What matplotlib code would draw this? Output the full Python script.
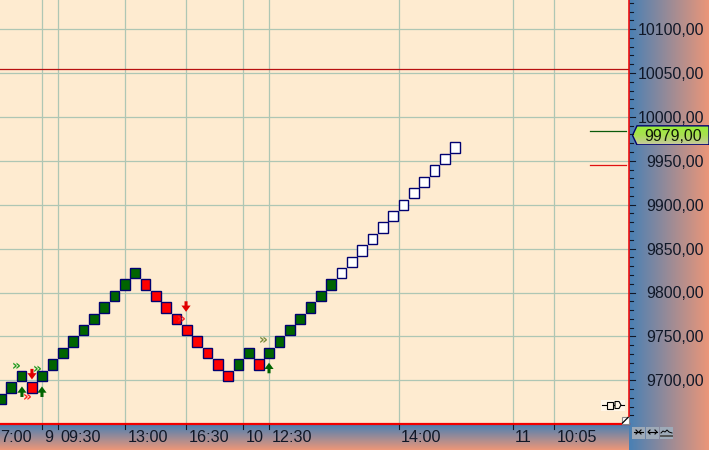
import matplotlib
matplotlib.use("Agg")
import matplotlib.pyplot as plt
import numpy as np
from matplotlib.colors import LinearSegmentedColormap
from matplotlib.patches import Rectangle, Polygon

# renko bricks, centre price and colour code (g=up, r=down, w=open)
brick_prices = [9679, 9692, 9705, 9692, 9705, 9718, 9731, 9744, 9757, 9770, 9783, 9796, 9809, 9822,
                9809, 9796, 9783, 9770, 9757, 9744, 9731, 9718, 9705,
                9718, 9731, 9718, 9731,
                9744, 9757, 9770, 9783, 9796, 9809, 9822, 9835, 9848, 9861, 9874, 9887, 9900,
                9913, 9926, 9939, 9952, 9965]
brick_kinds = list("gggrg" + "g" * 9 + "r" * 9 + "ggrg" + "g" * 6 + "w" * 12)
price_ticks = [9700, 9750, 9800, 9850, 9900, 9950, 10000, 10050, 10100]
price_labels = ["9700,00", "9750,00", "9800,00", "9850,00", "9900,00", "9950,00",
                "10000,00", "10050,00", "10100,00"]
time_grid = [3.97, 5.52, 12.05, 17.93, 23.45, 25.97, 38.6, 49.6, 53.6]
time_labels = ["9", "09:30", "13:00", "16:30", "10", "12:30", "14:00", "11", "10:05"]
label_px = [48.5, 81, 148, 209, 254.5, 292, 421, 523, 577]
last_price = 9979
level_line = 10054
green_level = 9984
red_level = 9945
# arrows as (x, tail, tip)
up_arrows = [(2.03, 9681, 9693), (3.97, 9681, 9693), (25.97, 9708, 9720)]
down_arrows = [(3.0, 9713, 9701), (17.93, 9790, 9778)]
chevrons = [(1.5, 9716, "#1E9A1E"), (3.46, 9713, "#1E9A1E"), (25.4, 9746, "#7A8A3A"),
            (2.49, 9681, "#FF2020"), (17.5, 9770, "#FF2020")]

W, H = 709, 450
bg = "#FEEBD0"
plt.rcParams["font.family"] = ["Liberation Sans", "DejaVu Sans"]
fig = plt.figure(figsize=(W / 100, H / 100), dpi=100, facecolor=bg)

grad = LinearSegmentedColormap.from_list("g", ["#4A80B4", "#EA9679"])

# side and bottom strips
side = fig.add_axes([629 / W, 0, 80 / W, 1])
side.imshow(np.linspace(0, 1, 80).reshape(1, -1), cmap=grad, aspect="auto")
side.axis("off")
bot = fig.add_axes([0, 0, 629 / W, 26 / H])
bot.imshow(np.linspace(0, 1, 26).reshape(-1, 1), cmap=grad, aspect="auto")
bot.axis("off")

# main pane: 629x424 px, price 9700 at y=380.3, 43.9 px per 50
ax = fig.add_axes([0, 26 / H, 629 / W, 424 / H], facecolor=bg)
ax.set_xlim(-1 / 10.32, 628 / 10.32)
ppu = 43.9 / 50
ax.set_ylim(9700 - (424 - 380.3) / ppu, 9700 + 380.3 / ppu)
for s in ax.spines.values():
    s.set_visible(False)
ax.spines["right"].set_visible(True)
ax.spines["right"].set_color("#F00000")
ax.spines["right"].set_linewidth(1.1)
ax.spines["bottom"].set_visible(True)
ax.spines["bottom"].set_color("#F00000")
ax.spines["bottom"].set_linewidth(1.6)

for p in price_ticks:
    ax.axhline(p, color="#AEC6B4", lw=0.9, zorder=1)
for t in time_grid:
    ax.axvline(t, color="#AEC6B4", lw=0.9, zorder=1)
ax.axhline(level_line, color="#B81010", lw=0.9, zorder=2)
ax.plot([57.1, 60.6], [green_level] * 2, color="#0A5A0A", lw=0.9, zorder=2)
ax.plot([57.1, 60.6], [red_level] * 2, color="#E01010", lw=0.9, zorder=2)

colors = {"g": "#006400", "r": "#FF0000", "w": "#FFFFFF"}
for i, (p, k) in enumerate(zip(brick_prices, brick_kinds)):
    ax.add_patch(Rectangle((i - 0.47, p - 5.9), 0.94, 11.8, facecolor=colors[k],
                           edgecolor="#000070", lw=1.0, zorder=3))

# buy and sell arrows
for x, tail, tip in up_arrows:
    ax.annotate("", xy=(x, tip), xytext=(x, tail), zorder=4,
                arrowprops=dict(width=2.2, headwidth=6.6, headlength=4.5, shrink=0,
                                color="#006400", lw=0))
for x, tail, tip in down_arrows:
    ax.annotate("", xy=(x, tip), xytext=(x, tail), zorder=4,
                arrowprops=dict(width=2.2, headwidth=6.6, headlength=4.5, shrink=0,
                                color="#E00000", lw=0))

# small chevrons
for x, y, c in chevrons:
    ax.text(x, y, "»", color=c, fontsize=10, ha="center", va="center", zorder=5,
            family="DejaVu Sans", fontweight="bold")

ax.set_xticks([])
ax.set_yticks([])

# price labels in the side strip
for p, lab in zip(price_ticks, price_labels):
    y = 380.3 - (p - 9700) * ppu
    fig.text(704 / W, 1 - (y + 1.5) / H, lab, ha="right", va="center", fontsize=11.4, color="#101828")
    fig.add_artist(plt.Line2D([630 / W, 635 / W], [1 - y / H] * 2, color="#101828", lw=0.8))
for p in range(9660, 10170, 10):
    y = 380.3 - (p - 9700) * ppu
    if p % 50 and 0 <= y <= 424:
        fig.add_artist(plt.Line2D([630 / W, 632.5 / W], [1 - y / H] * 2, color="#101828", lw=0.8))

# last price tag
y0 = 380.3 - (last_price - 9700) * ppu
tag = fig.add_axes([632 / W, 1 - (y0 + 10) / H, 77 / W, 20 / H])
tag_grad = LinearSegmentedColormap.from_list("t", ["#98F038", "#A8E050", "#C8C8A0"])
im = tag.imshow(np.linspace(0, 1, 20).reshape(-1, 1), cmap=tag_grad, aspect="auto",
                extent=(632, 709, y0 + 10, y0 - 10))
tag.set_xlim(632, 709)
tag.set_ylim(y0 + 10, y0 - 10)
tag.axis("off")
outline = Polygon([(632.5, y0), (637, y0 - 9.5), (709, y0 - 9.5), (709, y0 + 9.5), (637, y0 + 9.5)],
                  closed=True, facecolor="none", edgecolor="#000070", lw=1, transform=tag.transData)
tag.add_patch(outline)
im.set_clip_path(outline)
fig.text(673 / W, 1 - (y0 + 1.5) / H, "9979,00", ha="center", va="center", fontsize=11.4, color="#101808")

# time labels
for px, lab in zip(label_px, time_labels):
    fig.text(px / W, 1 - 438 / H, lab, ha="center", va="center", fontsize=11.6, color="#101828")
fig.text(0, 1 - 438 / H, "7:00", ha="left", va="center", fontsize=11.6, color="#101828")
for t in time_grid:
    px = 1 + t * 10.32
    fig.add_artist(plt.Line2D([px / W] * 2, [1 - 425 / H, 1 - 429 / H], color="#101828", lw=0.8))

# toolbar buttons
overlay = fig.add_axes([0, 0, 1, 1], facecolor="none")
overlay.set_xlim(0, W)
overlay.set_ylim(H, 0)
overlay.axis("off")
for x0 in [632, 646, 660]:
    overlay.add_patch(Rectangle((x0, 427), 13, 12, facecolor="#9EAAB8", edgecolor="none"))
overlay.plot([634, 643], [432, 432], color="black", lw=0.8)
overlay.plot([636, 638, 636], [430, 432, 434], color="black", lw=0.8)
overlay.plot([641, 639, 641], [430, 432, 434], color="black", lw=0.8)
overlay.plot([648, 657], [432, 432], color="black", lw=0.8)
overlay.plot([650, 648, 650], [430, 432, 434], color="black", lw=0.8)
overlay.plot([655, 657, 655], [430, 432, 434], color="black", lw=0.8)
overlay.plot([661, 663, 665, 667, 669, 672], [433, 431, 432, 430, 432, 433], color="black", lw=0.7)
overlay.plot([661, 672], [436, 436], color="#555555", lw=1.4)

# connector glyph and resize corner
overlay.add_patch(Rectangle((601, 400), 24, 11, facecolor="#FFF6E8", edgecolor="none"))
overlay.plot([602, 624], [405, 405], color="black", lw=0.8)
overlay.add_patch(Rectangle((607, 401.5), 6, 7, facecolor="#FFF6E8", edgecolor="black", lw=0.8, zorder=3))
overlay.add_patch(Polygon([(615, 401.5), (619, 401.5), (621, 405), (619, 408.5), (615, 408.5)],
                          closed=True, facecolor="#FFF6E8", edgecolor="black", lw=0.8, zorder=3))
overlay.add_patch(Rectangle((621.5, 416.5), 7, 7, facecolor="#FFFFFF", edgecolor="#888888", lw=0.8))
overlay.plot([622.5, 628], [423, 417.5], color="black", lw=0.9)

fig.savefig("out.png", dpi=100, facecolor=bg)
